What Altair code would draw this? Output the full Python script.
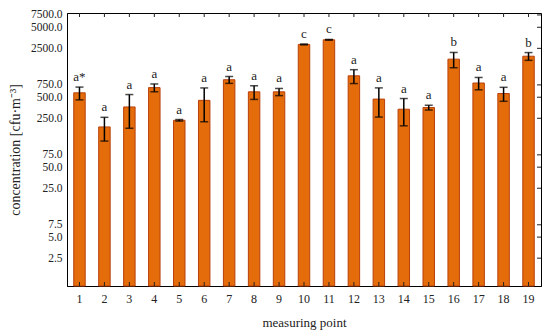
import altair as alt
import pandas as pd

points = [str(i) for i in range(1, 20)]
means = [578, 188, 363, 686, 234, 451, 889, 597, 597, 2843, 3311, 1011, 470, 337, 356, 1751, 798, 565, 1929]
errs = [120, 70, 183, 88, 6, 228, 100, 132, 70, 40, 40, 227, 210, 142, 28, 432, 160, 128, 245]
letters = ["a*", "a", "a", "a", "a", "a", "a", "a", "a", "c", "c", "a", "a", "a", "a", "b", "a", "a", "b"]
ytick_vals = [2.5, 5, 7.5, 25, 50, 75, 250, 500, 750, 2500, 5000, 7500]

df = pd.DataFrame({"point": points, "mean": means, "err": errs, "letter": letters})
df["lo"] = df["mean"] - df["err"]
df["hi"] = df["mean"] + df["err"]
ticks_df = pd.DataFrame({"v": ytick_vals})

W, H = 474, 273
FONT = "Liberation Serif"

xscale = alt.Scale(paddingInner=0.54, paddingOuter=0.27)
yscale = alt.Scale(type="log", domain=[1, 8000])

x = alt.X("point:N", sort=points, scale=xscale,
          axis=alt.Axis(title="measuring point", labelAngle=0, ticks=False, tickSize=0,
                        labelPadding=7, labelFontSize=12, titleFontSize=13,
                        labelFont=FONT, titleFont=FONT,
                        titleFontWeight="normal", titleY=36, titleBaseline="middle",
                        domainColor="black", labelColor="#222", titleColor="#222"))
y = alt.Y("mean:Q", scale=yscale,
          axis=alt.Axis(title="concentration [cfu·m⁻³]", values=ytick_vals, format=".1f",
                        ticks=False, tickSize=0, labelPadding=5, labelFontSize=11.5,
                        labelFont=FONT, titleFont=FONT, labelOverlap=False,
                        titleFontSize=14, titleFontWeight="normal", titleX=-52, titleY=H / 2,
                        titleAngle=-90, titleBaseline="middle", titleAlign="center",
                        grid=False, domainColor="black", labelColor="#222", titleColor="#222"))

base = alt.Chart(df)
bars = base.mark_bar(color="#E46C0A", stroke="#B8400C", strokeWidth=1).encode(
    x=x, y=y, y2=alt.datum(1))
rules = base.mark_rule(color="black", strokeWidth=1.5).encode(
    x=alt.X("point:N", sort=points, scale=xscale), y=alt.Y("lo:Q", scale=yscale), y2="hi:Q")
cap_hi = base.mark_tick(color="black", thickness=1.5, size=8, orient="horizontal").encode(
    x=alt.X("point:N", sort=points, scale=xscale), y=alt.Y("hi:Q", scale=yscale))
cap_lo = base.mark_tick(color="black", thickness=1.5, size=8, orient="horizontal").encode(
    x=alt.X("point:N", sort=points, scale=xscale), y=alt.Y("lo:Q", scale=yscale))
labels = base.mark_text(font=FONT, fontSize=13, color="#222", baseline="alphabetic", dy=-6).encode(
    x=alt.X("point:N", sort=points, scale=xscale), y=alt.Y("hi:Q", scale=yscale), text="letter:N")

bot_ticks = base.mark_rule(color="#222", strokeWidth=1).encode(
    x=alt.X("point:N", sort=points, scale=xscale), y=alt.value(H), y2=alt.value(H - 4))
top_ticks = base.mark_rule(color="#222", strokeWidth=1).encode(
    x=alt.X("point:N", sort=points, scale=xscale), y=alt.value(0), y2=alt.value(4))
right_ticks = alt.Chart(ticks_df).mark_rule(color="#222", strokeWidth=1).encode(
    y=alt.Y("v:Q", scale=yscale), x=alt.value(W - 4), x2=alt.value(W))

chart = alt.layer(bars, rules, cap_hi, cap_lo, labels, bot_ticks, top_ticks, right_ticks).properties(
    width=W, height=H,
    background="white",
    autosize=alt.AutoSizeParams(type="none"),
    padding={"left": 59, "top": 5, "right": 1, "bottom": 45},
).configure_view(stroke="black", strokeWidth=1).configure_axis(domainWidth=1)

chart.save("out.html", embed_options={"renderer": "svg", "actions": False})
